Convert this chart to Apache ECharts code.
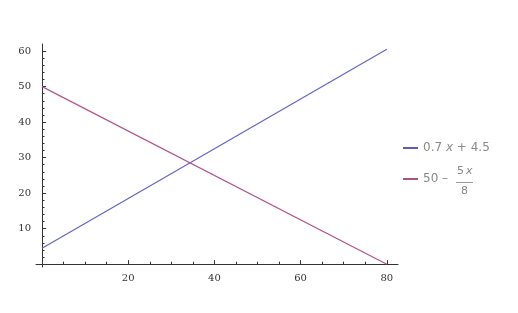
<!DOCTYPE html>
<html>
<head>
<meta charset="utf-8">
<script src="https://cdn.jsdelivr.net/npm/echarts@6/dist/echarts.min.js"></script>
<style>html,body{margin:0;padding:0;background:#fff}#c{width:518px;height:313px}</style>
</head>
<body>
<div id="c"></div>
<script>
// Data
const xPoints = [0, 80];
const blueValues = [4.5, 60.5];   // 0.7 x + 4.5
const pinkValues = [50, 0];       // 50 - 5x/8
const xMajorTicks = [20, 40, 60, 80];
const xMinorTicks = [5, 10, 15, 25, 30, 35, 45, 50, 55, 65, 70, 75];
const yMajorTicks = [10, 20, 30, 40, 50, 60];
const yMinorTicks = [2, 4, 6, 8, 12, 14, 16, 18, 22, 24, 26, 28, 32, 34, 36, 38, 42, 44, 46, 48, 52, 54, 56, 58];
const seriesNames = ['0.7 x + 4.5', '50 - 5x/8'];

const blueData = xPoints.map((x, i) => [x, blueValues[i]]);
const pinkData = xPoints.map((x, i) => [x, pinkValues[i]]);

const axisColor = '#333';
const labelFont = { fontFamily: 'DejaVu Serif', fontSize: 10, color: '#333' };
const legendText = { fontFamily: 'DejaVu Sans', fontSize: 12, color: '#8a8a8a' };

const chart = echarts.init(document.getElementById('c'), null, { renderer: 'canvas' });
chart.setOption({
  animation: false,
  grid: { left: 36, top: 44, width: 362, height: 223, containLabel: false },
  xAxis: [
    {
      type: 'value', min: -1.4, max: 82.6, position: 'bottom',
      axisLine: { show: true, onZero: true, lineStyle: { color: axisColor, width: 1 } },
      axisTick: { show: true, inside: true, length: 4, customValues: xMajorTicks, lineStyle: { color: axisColor } },
      axisLabel: Object.assign({ show: true, customValues: xMajorTicks, margin: 6 }, labelFont),
      splitLine: { show: false }
    },
    {
      type: 'value', min: -1.4, max: 82.6, position: 'bottom',
      axisLine: { show: false, onZero: true },
      axisTick: { show: true, inside: true, length: 2.5, customValues: xMinorTicks, lineStyle: { color: axisColor } },
      axisLabel: { show: false },
      splitLine: { show: false }
    }
  ],
  yAxis: [
    {
      type: 'value', min: -0.8, max: 62, position: 'left',
      axisLine: { show: true, onZero: true, lineStyle: { color: axisColor, width: 1 } },
      axisTick: { show: true, inside: true, length: 4, customValues: yMajorTicks, lineStyle: { color: axisColor } },
      axisLabel: Object.assign({ show: true, customValues: yMajorTicks, margin: 5 }, labelFont),
      splitLine: { show: false }
    },
    {
      type: 'value', min: -0.8, max: 62, position: 'left',
      axisLine: { show: false, onZero: true },
      axisTick: { show: true, inside: true, length: 2.5, customValues: yMinorTicks, lineStyle: { color: axisColor } },
      axisLabel: { show: false },
      splitLine: { show: false }
    }
  ],
  legend: [
    {
      data: [seriesNames[0]], orient: 'vertical', left: 403, top: 142, padding: 0,
      icon: 'rect', itemWidth: 15, itemHeight: 2, itemGap: 0,
      formatter: () => '0.7 {i|x} + 4.5',
      textStyle: Object.assign({ rich: { i: Object.assign({ fontStyle: 'italic' }, legendText) } }, legendText)
    },
    {
      data: [seriesNames[1]], orient: 'vertical', left: 403, top: 173, padding: 0,
      icon: 'rect', itemWidth: 15, itemHeight: 2, itemGap: 0,
      formatter: () => '50 \u2013',
      textStyle: legendText
    }
  ],
  graphic: [
    { type: 'text', left: 457, top: 166, style: { text: '5', fill: '#8a8a8a', font: '11px "DejaVu Sans"' } },
    { type: 'text', left: 466, top: 166, style: { text: 'x', fill: '#8a8a8a', font: 'italic 11px "DejaVu Sans"' } },
    { type: 'line', shape: { x1: 456, y1: 182.5, x2: 473, y2: 182.5 }, style: { stroke: '#9a9a9a', lineWidth: 1 } },
    { type: 'text', left: 461, top: 186, style: { text: '8', fill: '#8a8a8a', font: '11px "DejaVu Sans"' } }
  ],
  series: [
    {
      name: seriesNames[0], type: 'line', xAxisIndex: 0, yAxisIndex: 0,
      data: blueData, symbol: 'none', lineStyle: { color: '#6464c8', width: 1.2 }, itemStyle: { color: '#5a5ac4' }
    },
    {
      name: seriesNames[1], type: 'line', xAxisIndex: 0, yAxisIndex: 0,
      data: pinkData, symbol: 'none', lineStyle: { color: '#b0568a', width: 1.2 }, itemStyle: { color: '#b0507f' }
    }
  ]
});
</script>
</body>
</html>
